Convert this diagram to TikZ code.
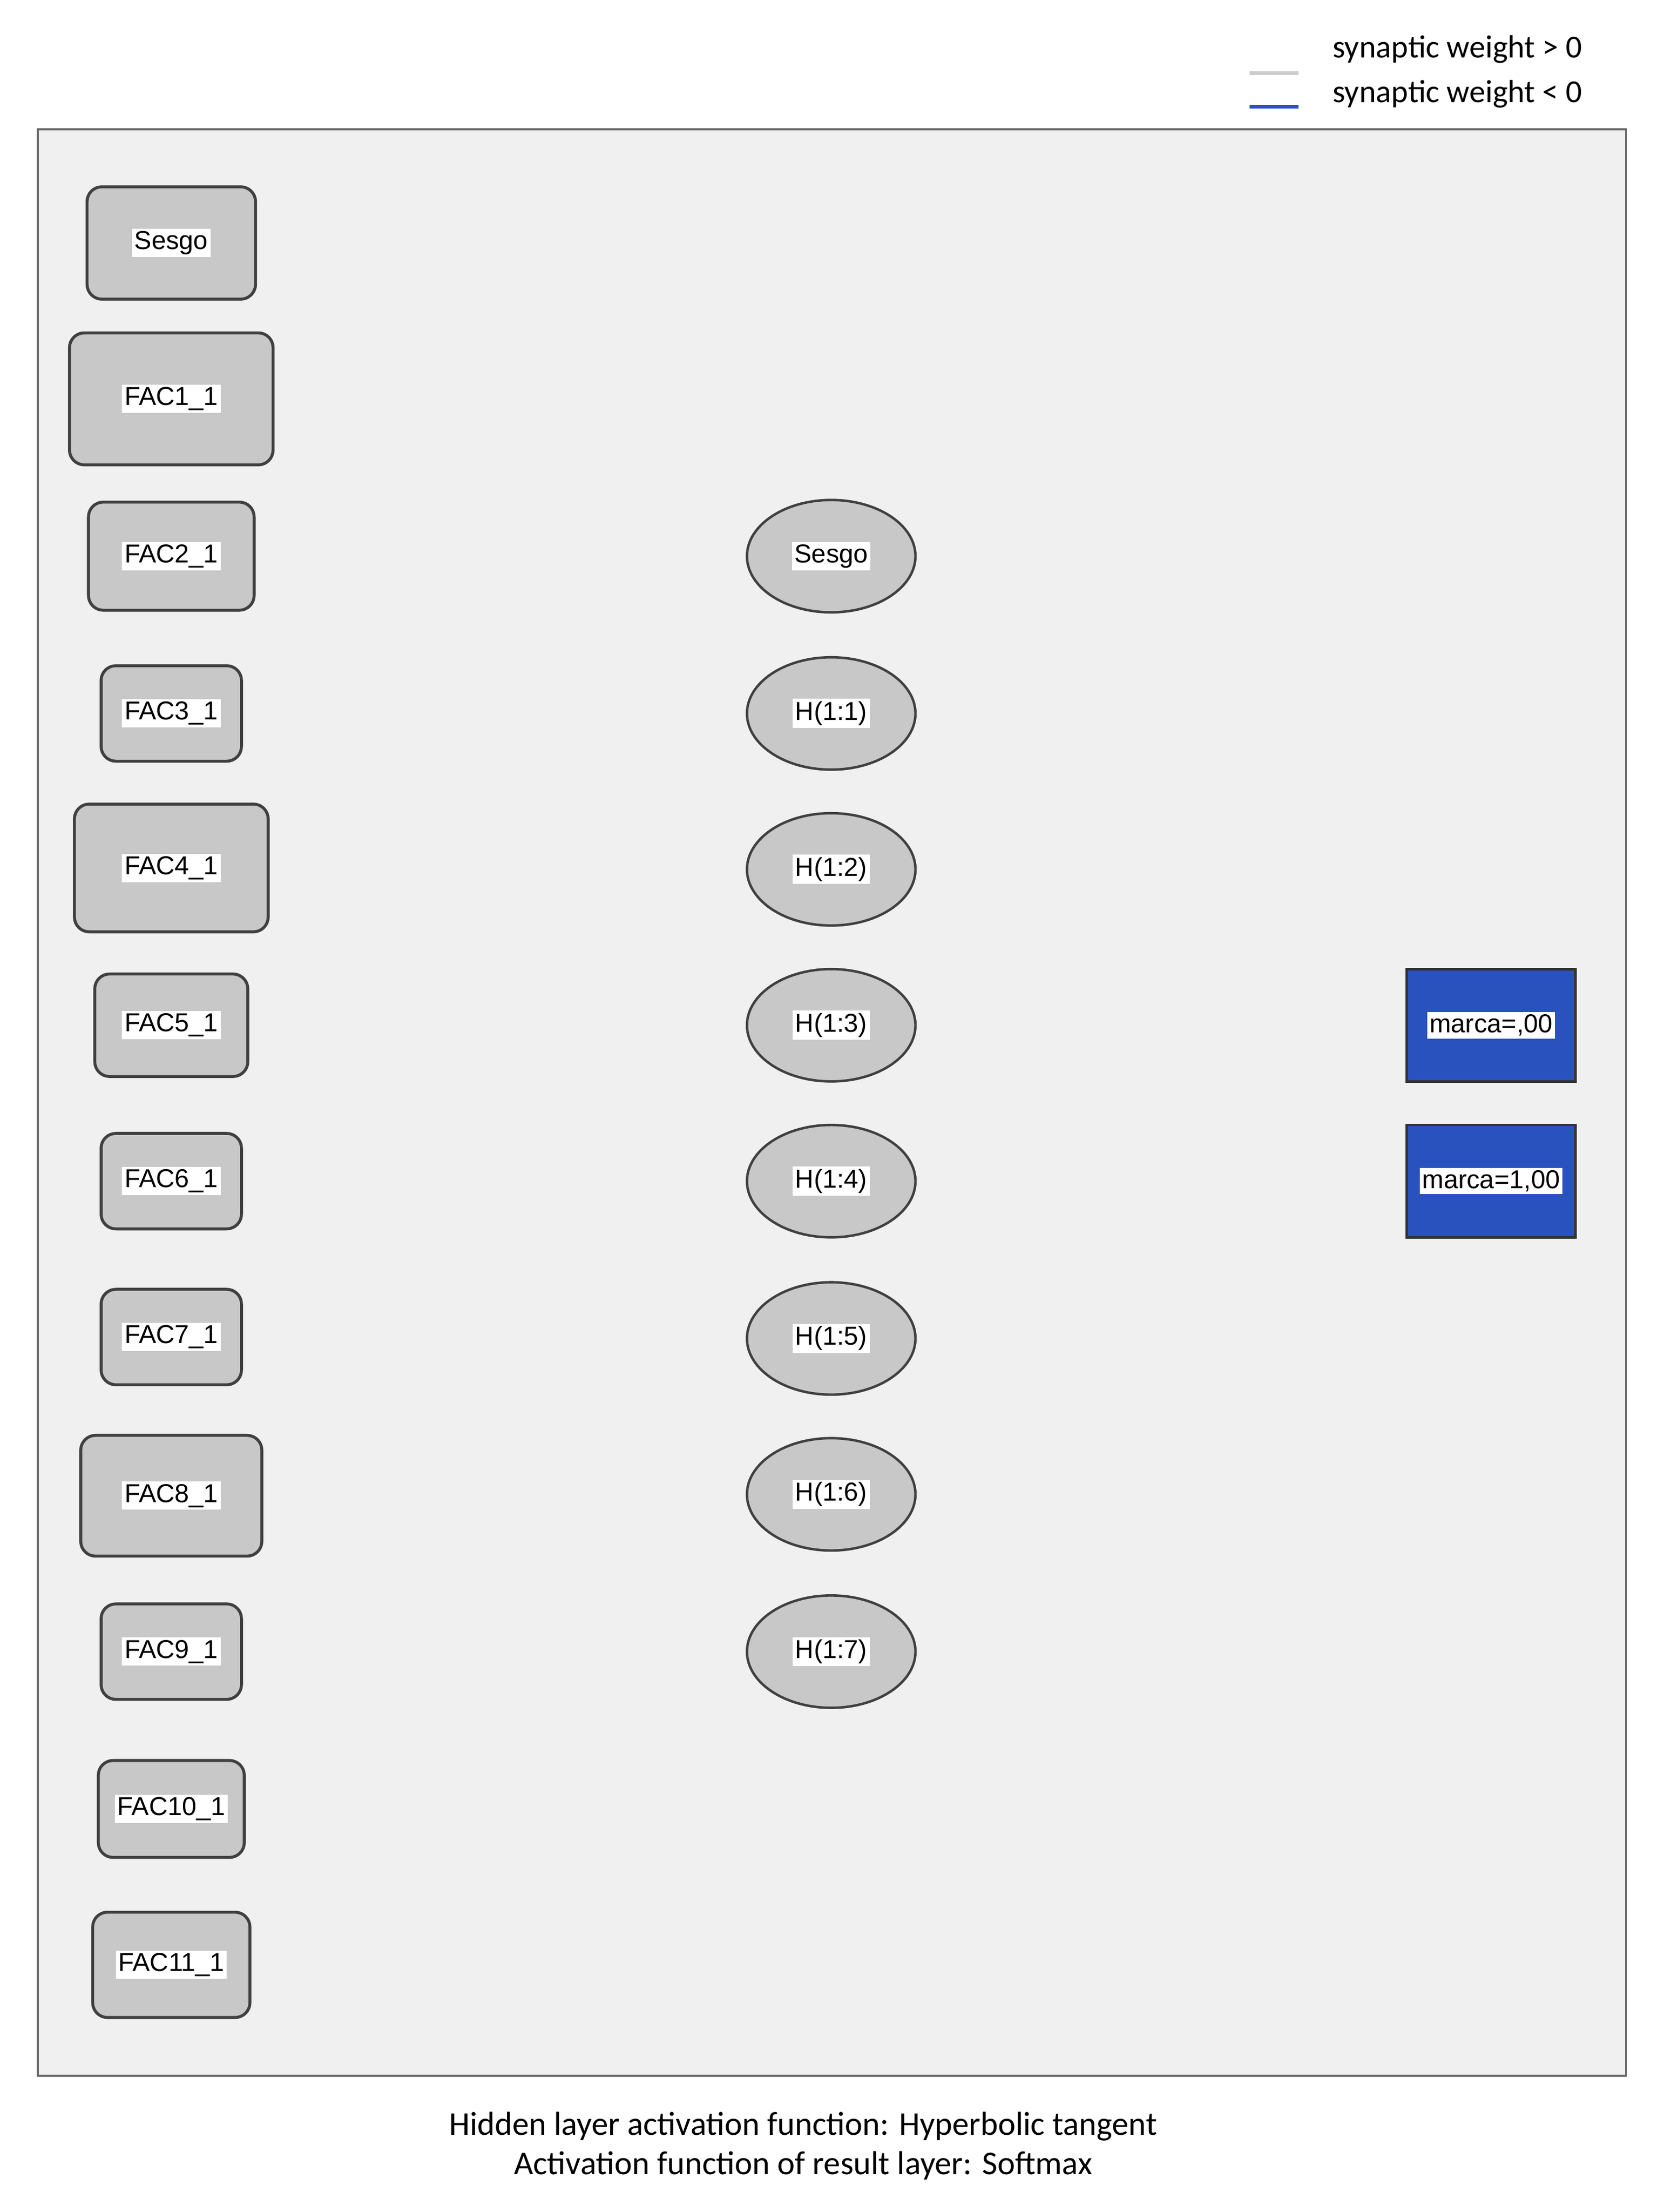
\documentclass[tikz,border=0pt]{standalone}
\usepackage{fontspec}
\setmainfont{Liberation Sans}
\newfontfamily\capfont{Carlito}
\usetikzlibrary{shapes.geometric,backgrounds}
\definecolor{nblue}{HTML}{2A52BE}
\definecolor{ngray}{HTML}{C8C8C8}
\definecolor{egray}{HTML}{CCCCCC}
\definecolor{bggray}{HTML}{F0F0F0}
\tikzset{
 inbox/.style={draw=black!75,line width=1.2pt,fill=ngray,rounded corners=6pt,minimum width=#1},
 hid/.style={ellipse,draw=black!75,line width=1pt,fill=ngray,minimum width=120*0.02cm,minimum height=80*0.02cm,inner sep=0pt},
 outbox/.style={draw=black!80,line width=1pt,fill=nblue,minimum width=120*0.02cm,minimum height=80*0.02cm},
 lab/.style={fill=white,inner sep=1pt,font=\fontsize{10.5}{12}\selectfont},
 wb/.style={draw=nblue,line width=2.3pt},
 wt/.style={draw=nblue!85,line width=0.9pt},
 wg/.style={draw=egray,line width=2.8pt},
 wl/.style={draw=egray!80,line width=1pt},
}
\begin{document}
\begin{tikzpicture}[x=0.02cm,y=-0.02cm]
\useasboundingbox (0,0) rectangle (1185,1575);
\draw[fill=bggray,draw=black!60,line width=0.8pt] (27,92) rectangle (1158,1478);
\fill[white] (882,20) rectangle (1158,91);
\draw[egray,line width=1.5pt] (890,52) -- (925,52);
\draw[nblue,line width=1.5pt] (890,76) -- (925,76);
\node[anchor=west,font=\capfont\fontsize{13}{15}\selectfont] (lg1) at (943,35) {synaptic weight > 0};
\node[anchor=west,font=\capfont\fontsize{13}{15}\selectfont] (lg2) at (943,67) {synaptic weight < 0};
\node[font=\capfont\fontsize{13.5}{16}\selectfont,align=center] (cap) at (572,1528) {Hidden layer activation function: Hyperbolic tangent\\Activation function of result layer: Softmax};
\foreach \n/\y/\w/\h/\t in {i0/173/120/80/Sesgo, i1/284/145/94/FAC1\_1, i2/396/118/77/FAC2\_1, i3/508/100/68/FAC3\_1, i4/618/138/91/FAC4\_1, i5/730/109/73/FAC5\_1, i6/841/100/68/FAC6\_1, i7/952/100/68/FAC7\_1, i8/1065/129/86/FAC8\_1, i9/1176/100/68/FAC9\_1, i10/1288/104/69/FAC10\_1, i11/1399/112/75/FAC11\_1} {
  \node[inbox=\w*0.02cm,minimum height=\h*0.02cm] (\n) at (122,\y) {};
  \node[lab] (\n t) at (122,\y) {\t};
}
\foreach \n/\y/\t in {h0/396/Sesgo, h1/508/H(1:1), h2/619/H(1:2), h3/730/H(1:3), h4/841/H(1:4), h5/953/H(1:5), h6/1064/H(1:6), h7/1176/H(1:7)} {
  \node[hid] (\n) at (592,\y) {};
  \node[lab] (\n t) at (592,\y) {\t};
}
\node[outbox] (o1) at (1062,730) {};
\node[lab] (o1t) at (1062,730) {marca=,00};
\node[outbox] (o2) at (1062,841) {};
\node[lab] (o2t) at (1062,841) {marca=1,00};
\begin{pgfonlayer}{background}
\fill[bggray] (28,93) rectangle (1157,1477);
\foreach \src/\row in {
 i0/{wt,wg,wg,wg,wl,wg,wg},
 i1/{wt,wt,wb,wb,wb,wb,wg},
 i2/{wb,wt,wb,wg,wt,wb,wl},
 i3/{wt,wb,wb,wt,wb,wg,wg},
 i4/{wg,wt,wb,wb,wt,wg,wg},
 i5/{wt,wg,wt,wb,wt,wb,wl},
 i6/{wt,wg,wt,wg,wb,wb,wg},
 i7/{wg,wg,wt,wb,wt,wt,wb},
 i8/{wg,wt,wg,wb,wt,wt,wb},
 i9/{wg,wb,wt,wb,wb,wg,wb},
 i10/{wb,wg,wt,wg,wl,wt,wb},
 i11/{wb,wg,wb,wl,wb,wl,wg}} {
  \foreach \s [count=\j] in \row { \draw[\s] (\src) -- (h\j); }
}
\foreach \h/\a/\b in {h0/wb/wg,h1/wb/wg,h2/wb/wg,h3/wl/wb,h4/wg/wb,h5/wg/wb,h6/wg/wb,h7/wb/wg} {
  \draw[\a] (\h) -- (o1.west);
  \draw[\b] (\h) -- (o2.west);
}
\end{pgfonlayer}
\end{tikzpicture}
\end{document}
